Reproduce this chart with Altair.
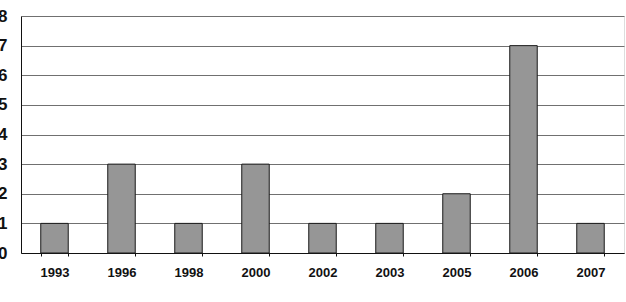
import altair as alt
import pandas as pd

years = ["1993", "1996", "1998", "2000", "2002", "2003", "2005", "2006", "2007"]
counts = [1, 3, 1, 3, 1, 1, 2, 7, 1]

df = pd.DataFrame({"year": years, "count": counts})

chart = alt.Chart(df).mark_bar(
    color="#969696", stroke="#1a1a1a", strokeWidth=1
).encode(
    x=alt.X("year:N", sort=years,
            scale=alt.Scale(paddingInner=0.59, paddingOuter=0.295),
            axis=alt.Axis(title=None, labelAngle=0, labelFont="Liberation Sans",
                          labelFontWeight="bold", labelFontSize=13, labelColor="#111",
                          domainColor="#111", tickColor="#111", tickSize=3,
                          tickBand="extent", labelPadding=10, grid=False)),
    y=alt.Y("count:Q", scale=alt.Scale(domain=[0, 8], nice=False),
            axis=alt.Axis(title=None, values=list(range(9)), ticks=False,
                          labelFont="Liberation Sans", labelFontWeight="bold",
                          labelFontSize=17, labelColor="#111", labelPadding=14,
                          domainColor="#111", gridColor="#707070", gridWidth=1,
                          gridOpacity=1))
).properties(
    width=603, height=237,
    autosize=alt.AutoSizeParams(type="none"),
    padding={"left": 21, "top": 16, "right": 2, "bottom": 49}
).configure_view(
    stroke="#444444", strokeWidth=1
).configure(background="white")

chart.save("out.html", embed_options={"renderer": "svg", "actions": False})
